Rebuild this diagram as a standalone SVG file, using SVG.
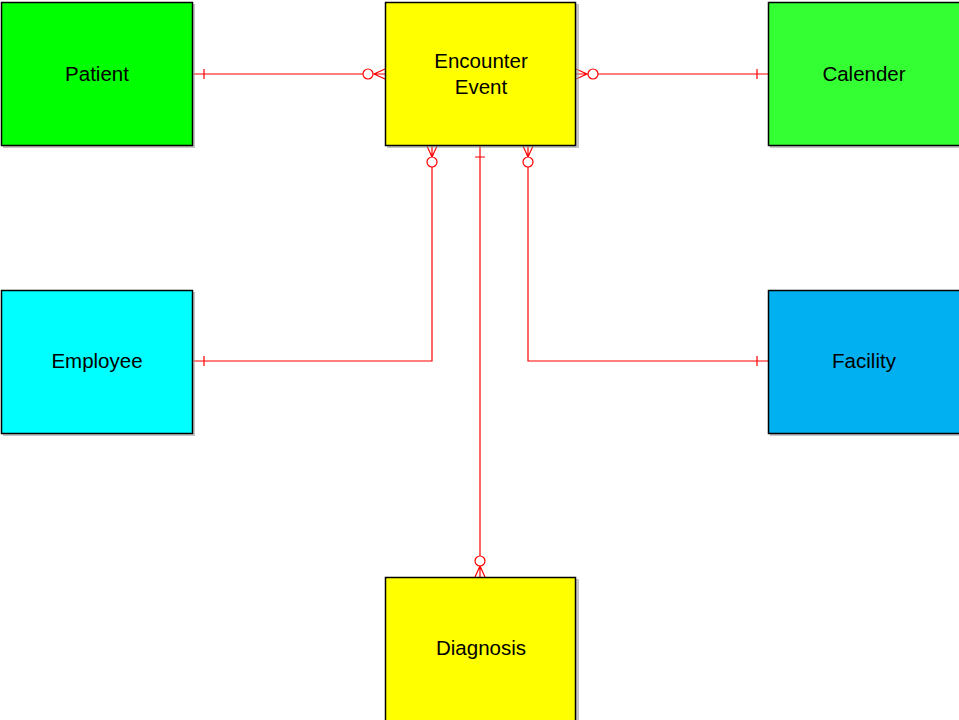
<svg xmlns="http://www.w3.org/2000/svg" width="959" height="720" viewBox="0 0 959 720">
<style>
.sh{fill:#a0a0a0;opacity:0.6}
.box{stroke:#000;stroke-width:1.5}
.t{font-family:"Liberation Sans",Arial,sans-serif;font-size:20.5px;fill:#000;text-anchor:middle;dominant-baseline:central}
.c{fill:none;stroke:#ff0000;stroke-width:1.2}
.o{fill:#fff;stroke:#ff0000;stroke-width:1.2}
</style>
<rect width="959" height="720" fill="#fff"/>
<g id="connectors">
  <path class="c" d="M193,74 H373 M204,69 V79 M385,69 L374,74 L385,79 M385,74 H374"/>
  <circle class="o" cx="368" cy="74" r="5"/>
  <path class="c" d="M598,74 H768 M757,69 V79 M576,69 L587,74 L576,79 M576,74 H587"/>
  <circle class="o" cx="593" cy="74" r="5"/>
  <path class="c" d="M432,167 V361 H193 M204,356 V366 M427,146 L432,157 L437,146 M432,146 V157"/>
  <circle class="o" cx="432" cy="162" r="5"/>
  <path class="c" d="M528,167 V361 H768 M757,356 V366 M523,146 L528,157 L533,146 M528,146 V157"/>
  <circle class="o" cx="528" cy="162" r="5"/>
  <path class="c" d="M480,146 V556 M475,157 H485 M475,577 L480,566 L485,577 M480,577 V566"/>
  <circle class="o" cx="480" cy="561" r="5"/>
</g>
<g id="patient">
  <rect class="sh" x="3" y="4" width="192" height="144"/>
  <rect class="box" x="1.5" y="2.5" width="191" height="143" fill="#00ff00"/>
  <text class="t" x="97" y="73">Patient</text>
</g>
<g id="encounter">
  <rect class="sh" x="387" y="4" width="192" height="144"/>
  <rect class="box" x="385.5" y="2.5" width="190" height="143" fill="#ffff00"/>
  <text class="t" x="481" y="60">Encounter</text>
  <text class="t" x="481" y="86">Event</text>
</g>
<g id="calender">
  <rect class="sh" x="770" y="4" width="192" height="144"/>
  <rect class="box" x="768.5" y="2.5" width="192" height="143" fill="#33ff33"/>
  <text class="t" x="864" y="73">Calender</text>
</g>
<g id="employee">
  <rect class="sh" x="3" y="292" width="192" height="144"/>
  <rect class="box" x="1.5" y="290.5" width="191" height="143" fill="#00ffff"/>
  <text class="t" x="97" y="360">Employee</text>
</g>
<g id="facility">
  <rect class="sh" x="770" y="292" width="192" height="144"/>
  <rect class="box" x="768.5" y="290.5" width="192" height="143" fill="#00b0f0"/>
  <text class="t" x="864" y="360">Facility</text>
</g>
<g id="diagnosis">
  <rect class="sh" x="387" y="579" width="192" height="144"/>
  <rect class="box" x="385.5" y="577.5" width="190" height="150" fill="#ffff00"/>
  <text class="t" x="481" y="647">Diagnosis</text>
</g>
</svg>
